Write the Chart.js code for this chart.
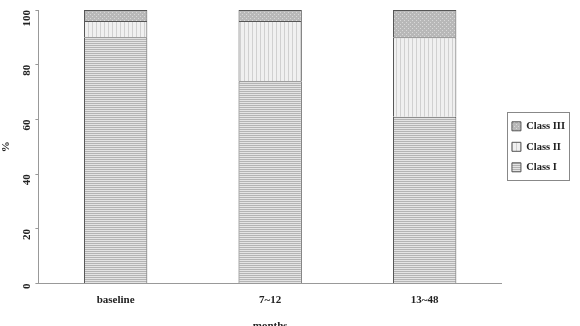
<!DOCTYPE html>
<html>
<head>
<meta charset="utf-8">
<script src="https://cdn.jsdelivr.net/npm/chart.js@4"></script>
<style>
  html, body { margin: 0; padding: 0; background: #fff; overflow: hidden; }
  #wrap { width: 580px; height: 337px; position: relative; }
</style>
</head>
<body>
<div id="wrap"><canvas id="grafico"></canvas></div>
<script>
const categorias = ["baseline", "7~12", "13~48"];
const classeI = [90, 74, 61];
const classeII = [6, 22, 29];
const classeIII = [4, 4, 10];
const ticksY = [0, 20, 40, 60, 80, 100];

function padrao(fundo, desenho) {
  const c = document.createElement("canvas");
  c.width = 4; c.height = 4;
  const ctx = c.getContext("2d");
  ctx.fillStyle = fundo;
  ctx.fillRect(0, 0, 4, 4);
  desenho(ctx);
  return ctx.createPattern(c, "repeat");
}

const fundoI = padrao("#b4b4b4", ctx => {
  ctx.fillStyle = "#e4e4e4";
  ctx.fillRect(0, 0, 4, 1);
  ctx.fillRect(0, 2, 4, 1);
});
const fundoII = padrao("#f0f0f0", ctx => {
  ctx.fillStyle = "#d0d0d0";
  ctx.fillRect(0, 0, 1, 4);
});
const fundoIII = padrao("#b8b8b8", ctx => {
  ctx.fillStyle = "#d8d8d8";
  ctx.fillRect(0, 0, 1, 1);
  ctx.fillRect(2, 2, 1, 1);
});

const fonteSerif = "'Liberation Serif', 'DejaVu Serif', serif";

// moldura em volta dos itens da legenda
const bordaLegenda = {
  id: "bordaLegenda",
  afterDraw(chart) {
    const caixas = chart.legend && chart.legend.legendHitBoxes;
    if (!caixas || !caixas.length) return;
    const esq = Math.min(...caixas.map(b => b.left)) - 5;
    const dir = Math.max(...caixas.map(b => b.left + b.width)) + 4;
    const topo = Math.min(...caixas.map(b => b.top)) - 9;
    const base = Math.max(...caixas.map(b => b.top + b.height)) + 7;
    const ctx = chart.ctx;
    ctx.save();
    ctx.strokeStyle = "#888";
    ctx.lineWidth = 1;
    ctx.strokeRect(Math.round(esq) + 0.5, Math.round(topo) + 0.5, Math.round(dir - esq), Math.round(base - topo));
    ctx.restore();
  }
};

new Chart(document.getElementById("grafico"), {
  type: "bar",
  data: {
    labels: categorias,
    datasets: [
      { label: "Class I", data: classeI, backgroundColor: fundoI, borderColor: "#555", borderWidth: 1 },
      { label: "Class II", data: classeII, backgroundColor: fundoII, borderColor: "#555", borderWidth: 1 },
      { label: "Class III", data: classeIII, backgroundColor: fundoIII, borderColor: "#555", borderWidth: 1 }
    ]
  },
  options: {
    responsive: true,
    maintainAspectRatio: false,
    animation: false,
    layout: { padding: { top: 10, right: 5, left: 0, bottom: 0 } },
    datasets: { bar: { categoryPercentage: 1, barPercentage: 0.41 } },
    plugins: {
      tooltip: { enabled: false },
      legend: {
        position: "right",
        fullSize: false,
        reverse: true,
        labels: {
          boxWidth: 9,
          boxHeight: 9,
          padding: 10,
          color: "#222",
          font: { family: fonteSerif, size: 10.5, weight: "bold" }
        }
      }
    },
    scales: {
      x: {
        stacked: true,
        grid: { display: false },
        border: { display: true, color: "#999", width: 1 },
        ticks: { color: "#222", padding: 2, font: { family: fonteSerif, size: 11, weight: "bold" } },
        title: { display: true, text: "months", color: "#222", padding: { top: 11 }, font: { family: fonteSerif, size: 11, weight: "bold" } }
      },
      y: {
        stacked: true,
        min: 0,
        max: 100,
        afterBuildTicks: axis => { axis.ticks = ticksY.map(v => ({ value: v })); },
        // traço longo com tracejado: só os 3px junto ao eixo aparecem
        grid: {
          drawOnChartArea: false, drawTicks: true, tickLength: 10, color: "#999",
          tickBorderDash: [3, 7], tickBorderDashOffset: 3
        },
        border: { display: true, color: "#999", width: 1 },
        ticks: { color: "#222", minRotation: 90, maxRotation: 90, padding: 1, font: { family: fonteSerif, size: 11, weight: "bold" } },
        title: { display: true, text: "%", color: "#222", padding: 0, font: { family: fonteSerif, size: 11, weight: "bold" } }
      }
    }
  },
  plugins: [bordaLegenda]
});
</script>
</body>
</html>
